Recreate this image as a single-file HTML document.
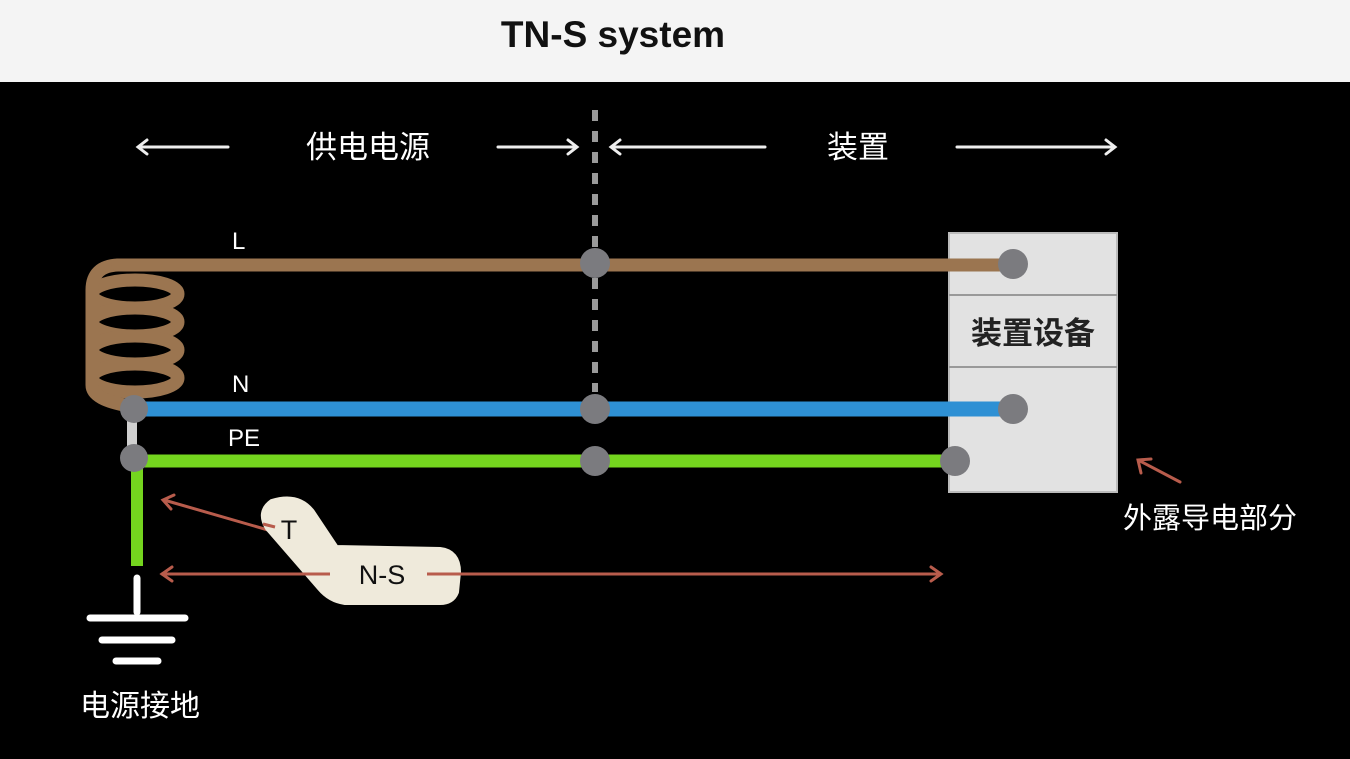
<!DOCTYPE html>
<html><head><meta charset="utf-8"><style>
html,body{margin:0;padding:0;background:#000;}
svg{display:block}
text{font-family:"Liberation Sans","Noto Sans CJK SC",sans-serif;}
</style></head><body>
<svg width="1350" height="759" viewBox="0 0 1350 759" xmlns="http://www.w3.org/2000/svg">
<rect x="0" y="0" width="1350" height="759" fill="#000"/>
<rect x="0" y="0" width="1350" height="82" fill="#f4f4f4"/>
<text x="613" y="47" font-size="37" font-weight="bold" text-anchor="middle" fill="#111">TN-S system</text>

<g stroke="#eee" stroke-width="3" fill="none" stroke-linecap="round">
<line x1="139" y1="147" x2="228" y2="147"/><polyline points="147,140 138,147 147,154"/>
<line x1="498" y1="147" x2="576" y2="147"/><polyline points="568,140 577,147 568,154"/>
<line x1="612" y1="147" x2="765" y2="147"/><polyline points="620,140 611,147 620,154"/>
<line x1="957" y1="147" x2="1114" y2="147"/><polyline points="1106,140 1115,147 1106,154"/>
</g>
<text x="368" y="158" font-size="31" fill="#fff" text-anchor="middle">供电电源</text>
<text x="858" y="158" font-size="31" fill="#fff" text-anchor="middle">装置</text>

<line x1="595" y1="110" x2="595" y2="392" stroke="#9a9a9a" stroke-width="6" stroke-dasharray="11,10"/>

<rect x="949" y="233" width="168" height="259" fill="#e2e2e2" stroke="#bbb" stroke-width="2"/>
<line x1="949" y1="295" x2="1117" y2="295" stroke="#999" stroke-width="2"/>
<line x1="949" y1="367" x2="1117" y2="367" stroke="#999" stroke-width="2"/>
<text x="1033" y="344" font-size="31" font-weight="bold" fill="#222" text-anchor="middle">装置设备</text>

<!-- coil -->
<g fill="none" stroke="#9b7550" stroke-width="13" stroke-linecap="round">
<ellipse cx="135" cy="294" rx="43" ry="14"/>
<ellipse cx="135" cy="322" rx="43" ry="14"/>
<ellipse cx="135" cy="350" rx="43" ry="14"/>
<ellipse cx="135" cy="378" rx="43" ry="14"/>
<path d="M118,265 Q92,266 92,290 L92,385 Q92,400 130,406"/>
<line x1="118" y1="265" x2="1013" y2="265"/>
</g>
<line x1="135" y1="409" x2="1013" y2="409" stroke="#2e90d4" stroke-width="15"/>
<line x1="132" y1="409" x2="132" y2="458" stroke="#cfcfcf" stroke-width="10"/>
<line x1="135" y1="461" x2="955" y2="461" stroke="#74d51e" stroke-width="13"/>
<line x1="137" y1="461" x2="137" y2="566" stroke="#74d51e" stroke-width="12"/>

<g fill="#7b7b7f">
<circle cx="595" cy="263" r="15"/><circle cx="1013" cy="264" r="15"/>
<circle cx="595" cy="409" r="15"/><circle cx="1013" cy="409" r="15"/>
<circle cx="595" cy="461" r="15"/><circle cx="955" cy="461" r="15"/>
<circle cx="134" cy="409" r="14"/><circle cx="134" cy="458" r="14"/>
</g>
<text x="232" y="249" font-size="24" fill="#fff">L</text>
<text x="232" y="392" font-size="24" fill="#fff">N</text>
<text x="228" y="446" font-size="24" fill="#fff">PE</text>

<g stroke="#fff" stroke-width="7" stroke-linecap="round">
<line x1="137" y1="578" x2="137" y2="612"/>
<line x1="90" y1="618" x2="185" y2="618"/>
<line x1="102" y1="640" x2="172" y2="640"/>
<line x1="116" y1="661" x2="158" y2="661"/>
</g>
<text x="140" y="716" font-size="30" fill="#fff" text-anchor="middle">电源接地</text>

<g stroke="#b85c4c" stroke-width="3" fill="none" stroke-linecap="round">
<line x1="164" y1="500" x2="268" y2="530"/><polyline points="174,495 163,500 171,509"/>
<line x1="162" y1="574" x2="940" y2="574"/>
<polyline points="172,567 162,574 172,581"/><polyline points="931,567 941,574 931,581"/>
<line x1="1180" y1="482" x2="1140" y2="461"/><polyline points="1141,473 1138,460 1151,459"/>
</g>
<path d="M272,502 Q298,494 312,512 L336,548 L440,550 Q458,552 458,572 L456,592 Q452,602 440,602 L345,602 Q330,600 320,588 L268,528 Q258,512 272,502 Z" fill="#efeadb" stroke="#efeadb" stroke-width="6" stroke-linejoin="round"/>
<g stroke="#b85c4c" stroke-width="3"><line x1="263" y1="524" x2="275" y2="527"/><line x1="300" y1="574" x2="330" y2="574"/><line x1="427" y1="574" x2="462" y2="574"/></g>
<text x="289" y="539" font-size="27" fill="#111" text-anchor="middle">T</text>
<text x="382" y="584" font-size="27" fill="#111" text-anchor="middle">N-S</text>

<text x="1210" y="528" font-size="29" fill="#fff" text-anchor="middle">外露导电部分</text>
</svg>
</body></html>
